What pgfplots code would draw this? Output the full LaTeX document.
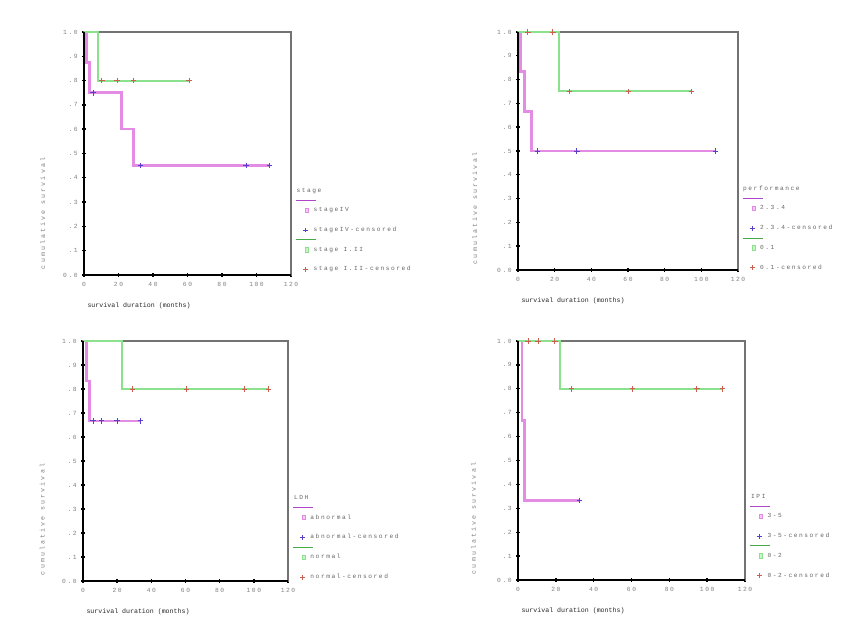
\documentclass[border=0pt]{standalone}
\usepackage{pgfplots}
\pgfplotsset{compat=1.18}
\usepackage{fontspec}
\setmainfont{Liberation Mono}
\newfontfamily\wide[LetterSpace=25]{Liberation Mono}
\newfontfamily\widel[LetterSpace=32]{Liberation Mono}
\definecolor{magline}{RGB}{228,140,228}
\definecolor{magdark}{RGB}{175,70,200}
\definecolor{grline}{RGB}{140,225,140}
\definecolor{grdark}{RGB}{70,170,70}
\definecolor{bluec}{RGB}{85,65,205}
\definecolor{redc}{RGB}{205,95,80}
\pgfplotsset{
 km/.style={
  scale only axis, anchor=south west, xmin=0, xmax=120, ymin=0, ymax=1,
  clip=false,
  axis line style={draw=black!55, line width=1.2pt},
  xtick={0,20,40,60,80,100,120}, xticklabels={0,20,40,60,80,100,120},
  ytick={0,0.1,0.2,0.3,0.4,0.5,0.6,0.7,0.8,0.9,1},
  yticklabels={0.0,.1,.2,.3,.4,.5,.6,.7,.8,.9,1.0},
  xtick pos=bottom, ytick pos=left,
  tick align=center, major tick length=3.5pt,
  major tick style={black, line width=1.4pt},
  ticklabel style={font=\wide\fontsize{6.3}{7}\selectfont, text=black!50},
  xticklabel style={yshift=-2pt},
  yticklabel style={xshift=-1pt},
  ylabel={cumulative survival},
  ylabel style={font=\widel\fontsize{6.6}{7}\selectfont, text=black!50, at={(rel axis cs:-0.17,0.01)}, rotate=0, anchor=south west},
  xlabel={survival duration (months)},
  xlabel style={font=\fontsize{6.6}{7}\selectfont, text=black!85, at={(rel axis cs:0,0)}, anchor=north west, yshift=-24pt},
  legend cell align=left,
  legend style={draw=none, fill=none, anchor=north west, font=\wide\fontsize{6.2}{7}\selectfont, text=black!60, row sep=11.5pt, column sep=3pt, inner sep=0pt, nodes={inner sep=1.2pt}},
 },
 magstep/.style={const plot, color=magline, line width=2.6pt, no marks, forget plot},
 grstep/.style={const plot, color=grline, line width=2pt, no marks, forget plot},
 bcens/.style={only marks, mark=+, mark size=2.8pt, color=bluec, line width=0.9pt, forget plot},
 rcens/.style={only marks, mark=+, mark size=2.8pt, color=redc, line width=0.9pt, forget plot},
 legmag/.style={legend image code/.code={
   \draw[magdark, line width=0.9pt, overlay] (-9pt,10pt) -- (11pt,10pt);
   \node[draw=magline, fill=magline!45, rectangle, inner sep=1.5pt, line width=0.9pt] at (0pt,0pt) {};}},
 legblue/.style={color=bluec, legend image code/.code={
   \draw[color=bluec, line width=1pt] (-2.4pt,0pt) -- (2.4pt,0pt) (0pt,-2.4pt) -- (0pt,2.4pt);}},
 leggr/.style={legend image code/.code={
   \draw[grdark, line width=0.9pt, overlay] (-9pt,10pt) -- (11pt,10pt);
   \node[draw=grline, fill=grline!45, rectangle, inner sep=1.5pt, line width=0.9pt] at (0pt,0pt) {};}},
 legred/.style={color=redc, legend image code/.code={
   \draw[color=redc, line width=1pt] (-2.4pt,0pt) -- (2.4pt,0pt) (0pt,-2.4pt) -- (0pt,2.4pt);}},
}
\newcommand{\blackaxes}{\draw[black, line width=1.1pt] (rel axis cs:0,1) -- (rel axis cs:0,0) -- (rel axis cs:1,0);}
\begin{document}
\begin{tikzpicture}[x=1pt,y=1pt]
\useasboundingbox (0,0) rectangle (867,635);
% ---------- Panel 1: stage
\begin{axis}[km, at={(84pt,360pt)}, width=207pt, height=243pt,
  legend style={at={(1.055,0.364)}}]
\addplot[magstep] coordinates {(0,1) (1.3,0.875) (3.3,0.75) (21.7,0.6) (28.8,0.45) (107.5,0.45)};
\addplot[grstep] coordinates {(0,1) (8,0.8) (61,0.8)};
\addplot[bcens] coordinates {(5.2,0.75) (32.7,0.45) (94,0.45) (107.5,0.45)};
\addplot[rcens] coordinates {(10.4,0.8) (19.2,0.8) (28.7,0.8) (61,0.8)};
\blackaxes
\addlegendimage{empty legend}\addlegendentry{\hspace{-17pt}stage}
\addlegendimage{legmag}\addlegendentry{stageIV}
\addlegendimage{legblue}\addlegendentry{stageIV-censored}
\addlegendimage{leggr}\addlegendentry{stage I.II}
\addlegendimage{legred}\addlegendentry{stage I.II-censored}
\end{axis}
% ---------- Panel 2: performance
\begin{axis}[km, at={(518pt,365pt)}, width=220pt, height=238pt,
  legend style={at={(1.05,0.359)}}]
\addplot[magstep] coordinates {(0,1) (1.3,0.833) (3.6,0.667) (7.5,0.5) (107.8,0.5)};
\addplot[grstep] coordinates {(0,1) (22.5,0.75) (94.6,0.75)};
\addplot[bcens] coordinates {(10.7,0.5) (32.1,0.5) (107.8,0.5)};
\addplot[rcens] coordinates {(5.4,1) (19,1) (28.1,0.75) (60.2,0.75) (94.6,0.75)};
\blackaxes
\addlegendimage{empty legend}\addlegendentry{\hspace{-17pt}performance}
\addlegendimage{legmag}\addlegendentry{2.3.4}
\addlegendimage{legblue}\addlegendentry{2.3.4-censored}
\addlegendimage{leggr}\addlegendentry{0.1}
\addlegendimage{legred}\addlegendentry{0.1-censored}
\end{axis}
% ---------- Panel 3: LDH
\begin{axis}[km, at={(83pt,54pt)}, width=205pt, height=240pt,
  legend style={at={(1.055,0.364)}}]
\addplot[magstep] coordinates {(0,1) (2,0.833) (3.9,0.667) (33.6,0.667)};
\addplot[grstep] coordinates {(0,1) (22.6,0.8) (108.5,0.8)};
\addplot[bcens] coordinates {(5.9,0.667) (10.9,0.667) (19.9,0.667) (33.6,0.667)};
\addplot[rcens] coordinates {(28.9,0.8) (60.7,0.8) (94.6,0.8) (108.5,0.8)};
\blackaxes
\addlegendimage{empty legend}\addlegendentry{\hspace{-17pt}LDH}
\addlegendimage{legmag}\addlegendentry{abnormal}
\addlegendimage{legblue}\addlegendentry{abnormal-censored}
\addlegendimage{leggr}\addlegendentry{normal}
\addlegendimage{legred}\addlegendentry{normal-censored}
\end{axis}
% ---------- Panel 4: IPI
\begin{axis}[km, at={(518pt,55pt)}, width=227pt, height=239pt,
  legend style={at={(1.05,0.365)}}]
\addplot[magstep] coordinates {(0,1) (2.1,0.667) (3.5,0.333) (32.6,0.333)};
\addplot[grstep] coordinates {(0,1) (22.2,0.8) (108.2,0.8)};
\addplot[bcens] coordinates {(32.6,0.333)};
\addplot[rcens] coordinates {(5.3,1) (10.6,1) (19.4,1) (28.3,0.8) (60.5,0.8) (94.5,0.8) (108.2,0.8)};
\blackaxes
\addlegendimage{empty legend}\addlegendentry{\hspace{-17pt}IPI}
\addlegendimage{legmag}\addlegendentry{3-5}
\addlegendimage{legblue}\addlegendentry{3-5-censored}
\addlegendimage{leggr}\addlegendentry{0-2}
\addlegendimage{legred}\addlegendentry{0-2-censored}
\end{axis}
\end{tikzpicture}
\end{document}
